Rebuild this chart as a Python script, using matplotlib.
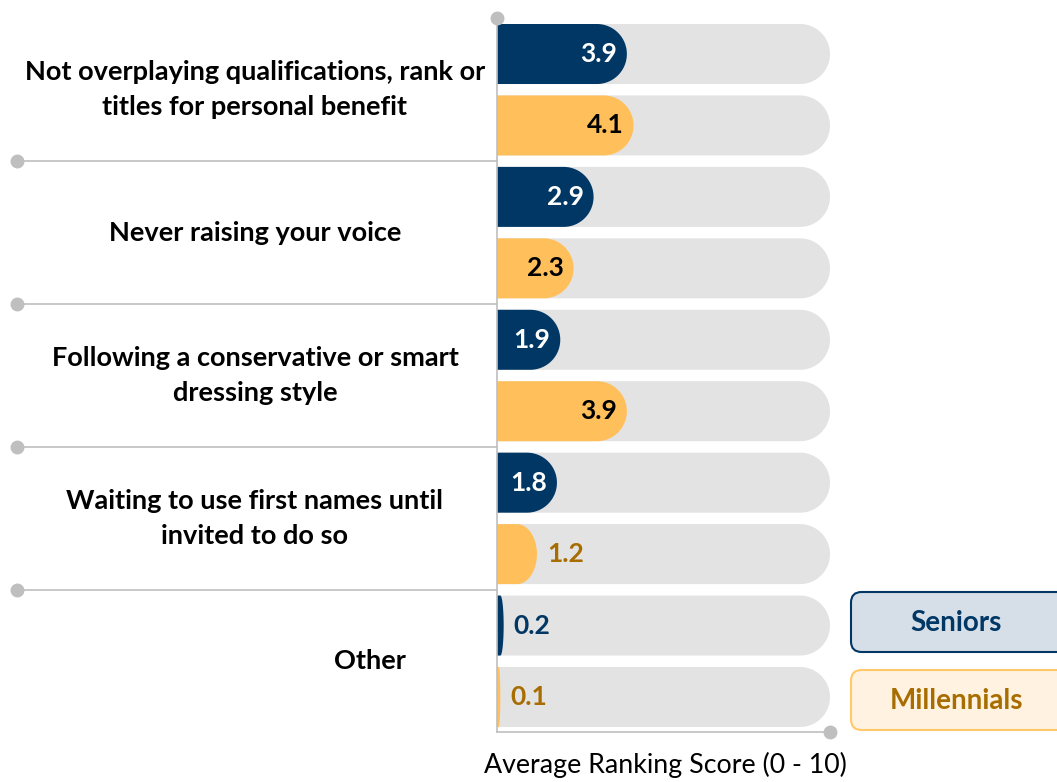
import numpy as np
import matplotlib
matplotlib.use("Agg")
import matplotlib.pyplot as plt
from matplotlib.patches import Polygon, FancyBboxPatch
from matplotlib.transforms import blended_transform_factory

plt.rcParams['font.family'] = ['Lato', 'DejaVu Sans']

categories = ["Not overplaying qualifications, rank or\ntitles for personal benefit",
              "Never raising your voice",
              "Following a conservative or smart\ndressing style",
              "Waiting to use first names until\ninvited to do so",
              "Other"]
seniors = [3.9, 2.9, 1.9, 1.8, 0.2]
millennials = [4.1, 2.3, 3.9, 1.2, 0.1]
series_names = ["Seniors", "Millennials"]
max_score = 10

NAVY = "#003764"
GOLD = "#FFC05C"
GOLD_TXT = "#A86D00"
TRACK = "#E3E3E3"
AXC = "#BFBFBF"

W, H = 1057, 782
fig = plt.figure(figsize=(W / 100, H / 100), dpi=100)
# axes: x 0..10 -> px 497..830, y px 18..732
ax = fig.add_axes([497 / W, 1 - 732 / H, (830 - 497) / W, (732 - 18) / H])
ax.set_xlim(0, max_score)
ax.set_ylim(9.49, -0.504)

bar_h = 0.84
cap = 0.9  # x radius of rounded end in data units


def rbar(x1, yc, color, z):
    if x1 <= 0:
        return
    rx = min(cap, x1 * 0.5)
    t = np.linspace(-np.pi / 2, np.pi / 2, 60)
    xs = x1 - rx + rx * np.cos(t)
    ys = yc + bar_h / 2 * np.sin(t)
    pts = [(0, yc - bar_h / 2)] + list(zip(xs, ys)) + [(0, yc + bar_h / 2)]
    ax.add_patch(Polygon(pts, closed=True, facecolor=color, edgecolor='none', zorder=z))


for i in range(len(categories)):
    for j, (vals, col) in enumerate([(seniors, NAVY), (millennials, GOLD)]):
        y = 2 * i + j
        v = vals[i]
        rbar(max_score, y, TRACK, 1)
        rbar(v, y, col, 2)
        if v >= 1.5:
            tc = "white" if j == 0 else "black"
            ax.text(v - 0.3, y, f"{v:.1f}", ha='right', va='center',
                    fontsize=19, fontweight='bold', color=tc, zorder=3)
        else:
            tc = NAVY if j == 0 else GOLD_TXT
            ax.text(v + 0.3, y, f"{v:.1f}", ha='left', va='center',
                    fontsize=19, fontweight='bold', color=tc, zorder=3)

# axes lines
for s in ['top', 'right']:
    ax.spines[s].set_visible(False)
for s in ['left', 'bottom']:
    ax.spines[s].set_color(AXC)
    ax.spines[s].set_linewidth(1.2)
ax.set_xticks([])
ax.set_yticks([])
ax.plot([0], [-0.504], 'o', color=AXC, ms=9, clip_on=False, zorder=5)
ax.plot([max_score], [9.49], 'o', color=AXC, ms=9, clip_on=False, zorder=5)

# group separators
tr = blended_transform_factory(ax.transAxes, ax.transData)
left_frac = (17 - 497) / (830 - 497)
for k in range(1, len(categories)):
    yy = 2 * k - 0.5
    ax.plot([left_frac, 0], [yy, yy], color=AXC, lw=1.2, transform=tr, clip_on=False)
    ax.plot([left_frac], [yy], 'o', color=AXC, ms=9, transform=tr, clip_on=False)

# category labels
for i, cat in enumerate(categories):
    xc = (255 - 497) / 333 if i < len(categories) - 1 else (370 - 497) / 333
    ax.text(xc, 2 * i + 0.5, cat, transform=tr, ha='center', va='center',
            fontsize=19.5, fontweight='bold', color='black', linespacing=1.55)

fig.text(665 / W, 1 - 765 / H, "Average Ranking Score (0 - 10)",
         ha='center', va='center', fontsize=19.3, color='black')

# legend boxes
leg = [(series_names[0], "#D6DFE8", NAVY, NAVY, 592),
       (series_names[1], "#FFF2E0", "#FFC969", GOLD_TXT, 670)]
for name, fc, ec, tc, ytop in leg:
    bx = FancyBboxPatch((851 / W, 1 - (ytop + 60) / H), 230 / W, 60 / H,
                        boxstyle="round,pad=0,rounding_size=0.01",
                        transform=fig.transFigure, facecolor=fc, edgecolor=ec,
                        lw=1.5, mutation_aspect=W / H)
    fig.patches.append(bx)
    fig.text(956 / W, 1 - (ytop + 31) / H, name, ha='center', va='center',
             fontsize=20, fontweight='bold', color=tc)

fig.savefig("out.png", dpi=100)
